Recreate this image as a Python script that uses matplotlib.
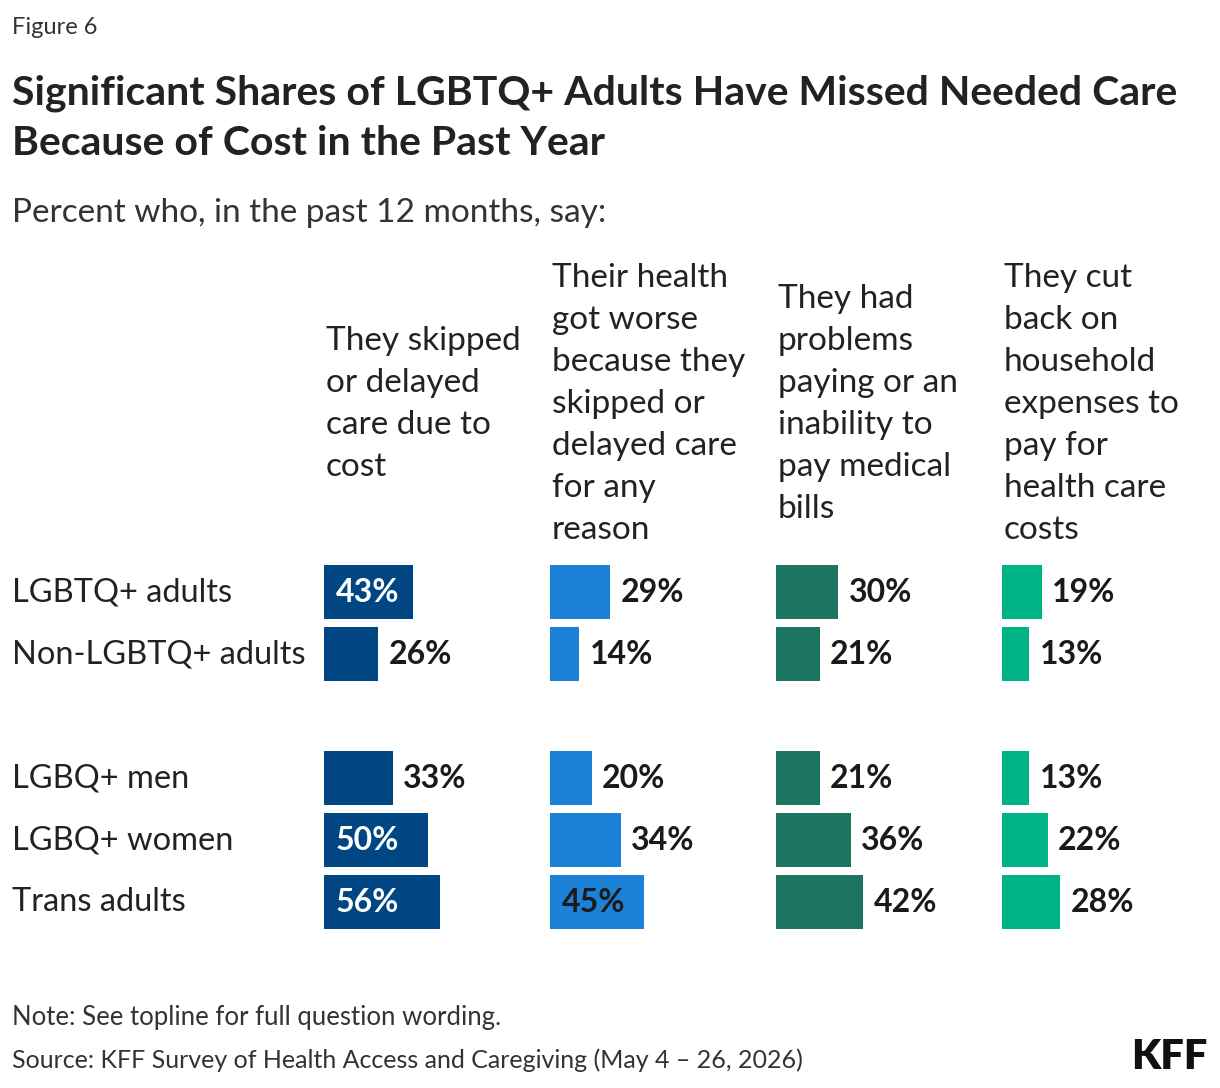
import matplotlib
matplotlib.use("Agg")
import matplotlib.pyplot as plt

plt.rcParams['font.family'] = ['Lato', 'DejaVu Sans']

groups = ["LGBTQ+ adults", "Non-LGBTQ+ adults", "LGBQ+ men", "LGBQ+ women", "Trans adults"]
row_pos = [0, 1, 3, 4, 5]
headers = ["They skipped\nor delayed\ncare due to\ncost",
           "Their health\ngot worse\nbecause they\nskipped or\ndelayed care\nfor any\nreason",
           "They had\nproblems\npaying or an\ninability to\npay medical\nbills",
           "They cut\nback on\nhousehold\nexpenses to\npay for\nhealth care\ncosts"]
skipped = [43, 26, 33, 50, 56]
worse = [29, 14, 20, 34, 45]
bills = [30, 21, 21, 36, 42]
cutback = [19, 13, 13, 22, 28]
series = [skipped, worse, bills, cutback]
colors = ["#004683", "#1c82d8", "#1b7561", "#00b386"]
inside_text = ["white", "#1a1a1a", "white", "white"]

W, H = 1220, 1088
fig = plt.figure(figsize=(W/100, H/100), dpi=100)

col_x = [324, 550, 776, 1002]
px_per_unit = 2.08
ax_top, ax_bot = 561, 933
for i, (vals, c) in enumerate(zip(series, colors)):
    ax = fig.add_axes([col_x[i]/W, 1-ax_bot/H, 100*px_per_unit/W, (ax_bot-ax_top)/H])
    ax.barh(row_pos, vals, height=0.87, color=c)
    ax.set_xlim(0, 100)
    ax.set_ylim(5.5, -0.5)
    ax.axis('off')
    for y, v in zip(row_pos, vals):
        if v >= 43:
            ax.text(5.5, y, f"{v}%", va='center', ha='left', fontsize=23, fontweight='bold',
                    color=inside_text[i])
        else:
            ax.text(v + 5, y, f"{v}%", va='center', ha='left', fontsize=23, fontweight='bold',
                    color="#1a1a1a")
    fig.text((col_x[i]+2)/W, 1-404/H, headers[i], ha='left', va='center', fontsize=24,
             color="#222222", linespacing=1.5)

for y, g in zip(row_pos, groups):
    fig.text(12/W, 1-(592+62*y)/H, g, ha='left', va='center', fontsize=23.5, color="#222222")

fig.text(12/W, 1-27/H, "Figure 6", ha='left', va='center', fontsize=17, color="#333333")
fig.text(12/W, 1-118/H, "Significant Shares of LGBTQ+ Adults Have Missed Needed Care\nBecause of Cost in the Past Year",
         ha='left', va='center', fontsize=29.5, fontweight='bold', color="#222222", linespacing=1.42)
fig.text(12/W, 1-213/H, "Percent who, in the past 12 months, say:", ha='left', va='center',
         fontsize=24, color="#333333")
fig.text(12/W, 1-1017/H, "Note: See topline for full question wording.", ha='left', va='center',
         fontsize=18.5, color="#333333")
fig.text(12/W, 1-1060/H, "Source: KFF Survey of Health Access and Caregiving (May 4 \u2013 26, 2026)",
         ha='left', va='center', fontsize=18, color="#333333")
fig.text(1207/W, 1-1057/H, "KFF", ha='right', va='center', fontsize=30, fontweight='heavy', color="#111111")

fig.savefig("out.png", dpi=100)
